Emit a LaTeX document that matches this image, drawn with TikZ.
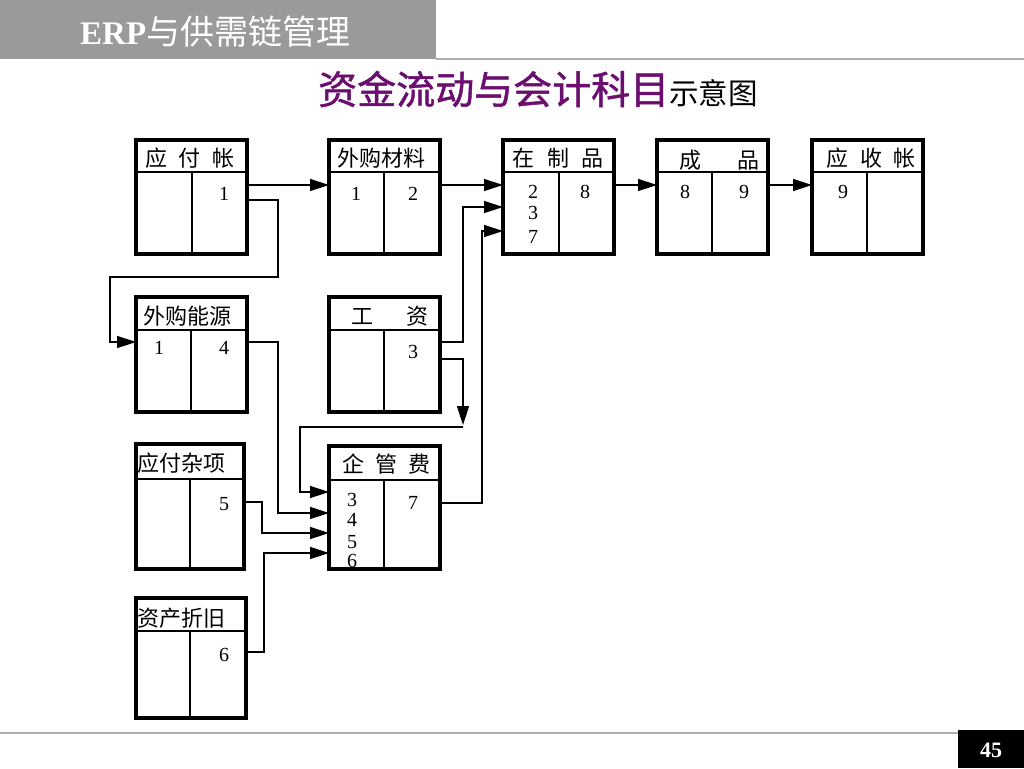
\documentclass[tikz,border=0pt]{standalone}
\usepackage{fontspec}
\newfontfamily\cjk{Noto Sans CJK SC}
\newfontfamily\tnr{Liberation Serif}
\usetikzlibrary{arrows.meta}
\definecolor{barGray}{RGB}{154,154,154}
\definecolor{lineGray}{RGB}{175,175,175}
\definecolor{titlePurple}{RGB}{108,14,112}
\tikzset{
  box/.style={draw, line width=3.4pt, inner sep=0pt, outer sep=0pt},
  innerln/.style={line width=1.3pt},
  wire/.style={line width=1.4pt},
  arr/.style={wire, -{Triangle[length=19pt,width=12pt]}},
  lab/.style={font=\cjk\fontsize{22}{22}\selectfont, inner sep=0pt},
  num/.style={font=\tnr\fontsize{20}{20}\selectfont, inner sep=0pt},
}
\newcommand\acctbox[7]{%
  \draw[innerln] (#2,#6) -- (#4,#6);
  \draw[innerln] (#7,#6) -- (#7,#5);
  \node[box, minimum width={(#4-#2)*1pt}, minimum height={(#5-#3)*1pt}] (#1) at ({(#2+#4)/2},{(#3+#5)/2}) {};
}
\begin{document}
\begin{tikzpicture}[x=1pt,y=-1pt]
\useasboundingbox (0,0) rectangle (1024,768);
\fill[white] (0,0) rectangle (1024,768);
% header bar
\fill[barGray] (0,0) rectangle (436,59);
\draw[lineGray, line width=1.5pt] (436,59) -- (1024,59);
\node[anchor=west, inner sep=0pt, text=white] (hdr) at (80,32)
  {{\tnr\bfseries\fontsize{33}{33}\selectfont ERP}{\cjk\fontsize{34}{34}\selectfont 与供需链管理}};
% title
\node[anchor=base west, inner sep=0pt] (title) at (318,104)
  {{\cjk\fontsize{39}{39}\selectfont\addfontfeatures{FakeBold=1.2}\color{titlePurple}资金流动与会计科目}{\cjk\fontsize{29.5}{30}\selectfont 示意图}};
% footer
\draw[lineGray, line width=1.2pt] (0,733) -- (958,733);
\fill[black] (958,730) rectangle (1024,768);
\node[text=white, inner sep=0pt] (pg) at (991,750) {\tnr\bfseries\fontsize{22}{22}\selectfont 45};

% helper levels
\foreach \yy in {185,200,207,231,342,359,492,502,503,513,533,553,652}
  \coordinate (y\yy) at (0,\yy);

% boxes: name, left, top, right, bottom, header y, divider x
\acctbox{A}{136}{140}{247}{254}{172}{192}
\acctbox{B}{329}{140}{440}{254}{172}{384}
\acctbox{C}{503}{140}{614}{254}{172}{559}
\acctbox{D}{657}{140}{768}{254}{172}{712}
\acctbox{E}{812}{140}{923}{254}{172}{867}
\acctbox{F}{136}{297}{247}{412}{330}{191}
\acctbox{G}{329}{297}{440}{412}{330}{384}
\acctbox{H}{136}{444}{244}{569}{479}{190}
\acctbox{I}{329}{446}{440}{569}{480}{384}
\acctbox{J}{136}{598}{246}{718}{631}{190}

% headers
\node[lab] (Alab) at (190,158) {应\hspace{12pt}付\hspace{12pt}帐};
\node[lab] (Blab) at (381,158) {外购材料};
\node[lab] (Clab) at (558,158) {在\hspace{12.5pt}制\hspace{12.5pt}品};
\node[lab] (Dlab) at (719,160) {成\hspace{36pt}品};
\node[lab] (Elab) at (871,158) {应\hspace{12pt}收\hspace{12pt}帐};
\node[lab] (Flab) at (187,316) {外购能源};
\node[lab] (Glab) at (390,316) {工\hspace{33pt}资};
\node[lab, anchor=west] (Hlab) at (137,463) {应付杂项};
\node[lab] (Ilab) at (386,464) {企\hspace{11pt}管\hspace{11pt}费};
\node[lab, anchor=west] (Jlab) at (137,618) {资产折旧};

% numbers
\node[num] (A1) at (224,194) {1};
\node[num] (B1) at (356,194) {1};
\node[num] (B2) at (413,194) {2};
\node[num] (C2) at (533,192) {2};
\node[num] (C3) at (533,213) {3};
\node[num] (C7) at (533,237) {7};
\node[num] (C8) at (585,192) {8};
\node[num] (D8) at (685,192) {8};
\node[num] (D9) at (744,192) {9};
\node[num] (E9) at (843,192) {9};
\node[num] (F1) at (159,348) {1};
\node[num] (F4) at (224,348) {4};
\node[num] (G3) at (413,352) {3};
\node[num] (H5) at (224,504) {5};
\node[num] (I3) at (352,500) {3};
\node[num] (I4) at (352,520) {4};
\node[num] (I5) at (352,542) {5};
\node[num] (I6) at (352,561) {6};
\node[num] (I7) at (413,503) {7};
\node[num] (J6) at (224,655) {6};

% connectors
\draw[arr] (A.east |- y185) -- (B.west |- y185);
\draw[arr] (B.east |- y185) -- (C.west |- y185);
\draw[arr] (C.east |- y185) -- (D.west |- y185);
\draw[arr] (D.east |- y185) -- (E.west |- y185);
\draw[arr] (A.east |- y200) -| (278,277) -- (110,277) |- (F.west |- y342);
\draw[arr] (G.east |- y342) -| (463,207) -- (C.west |- y207);
\draw[arr] (G.east |- y359) -| (463,425);
\coordinate (gbend) at (463,427);
\draw[arr] (gbend) -- (300,427) |- (I.west |- y492);
\draw[arr] (I.east |- y503) -| (482,231) -- (C.west |- y231);
\draw[arr] (F.east |- y342) -| (278,513) -- (I.west |- y513);
\draw[arr] (H.east |- y502) -| (262,533) -- (I.west |- y533);
\draw[arr] (J.east |- y652) -| (264,553) -- (I.west |- y553);
\end{tikzpicture}
\end{document}
